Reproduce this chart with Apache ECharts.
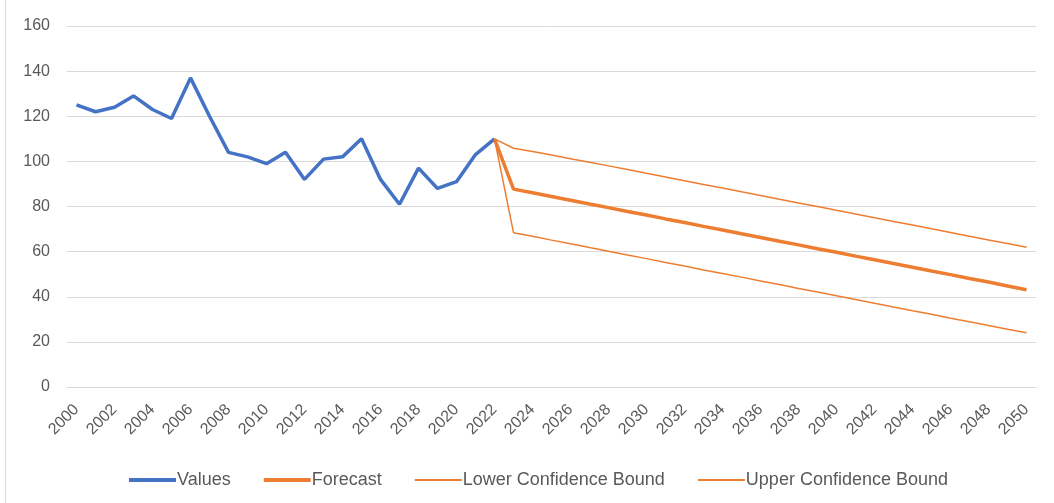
<!DOCTYPE html>
<html>
<head>
<meta charset="utf-8">
<script src="https://cdn.jsdelivr.net/npm/echarts@6/dist/echarts.min.js"></script>
<style>
  html, body { margin: 0; padding: 0; background: #fff; }
  #chart { width: 1054px; height: 503px; }
</style>
</head>
<body>
<div id="chart"></div>
<script>
// years 2000..2050
const years = []
for (let y = 2000; y <= 2050; y++) years.push(String(y))

// observed values 2000-2022
const values = [125, 122, 124, 129, 123, 119, 137, 120, 104, 102, 99, 104, 92, 101, 102, 110, 92, 81, 97, 88, 91, 103, 110]

// forecast / bounds start at 2022 (110)
const forecast = [110, 87.7, 86.1, 84.4, 82.8, 81.1, 79.5, 77.8, 76.2, 74.5, 72.9, 71.2, 69.6, 67.9, 66.3, 64.6, 63.0, 61.3, 59.7, 58.0, 56.4, 54.7, 53.1, 51.4, 49.8, 48.1, 46.5, 44.8, 43.1]
const lower = [110, 68.4, 66.8, 65.1, 63.5, 61.8, 60.2, 58.5, 56.9, 55.2, 53.6, 51.9, 50.3, 48.7, 47.0, 45.4, 43.7, 42.1, 40.4, 38.8, 37.1, 35.5, 33.8, 32.2, 30.5, 28.9, 27.3, 25.6, 24.0]
const upper = [110, 105.8, 104.4, 102.8, 101.2, 99.6, 98.0, 96.4, 94.7, 93.1, 91.4, 89.8, 88.2, 86.5, 84.9, 83.2, 81.6, 80.0, 78.3, 76.7, 75.0, 73.4, 71.8, 70.1, 68.5, 66.8, 65.2, 63.6, 61.9]

const pad = n => new Array(n).fill('-')
const offset = values.length - 1 // 2022 index

const font = "'Liberation Sans', 'Noto Sans', sans-serif"
const blue = '#4472C4'
const orange = '#ED7D31'
// legend icons: thick / thin bar
const thickIcon = 'path://M0,0 L47,0 L47,4 L0,4 Z'
const thinIcon = 'path://M0,0 L47,0 L47,2 L0,2 Z'

const myChart = echarts.init(document.getElementById('chart'))
const option = {
  animation: false,
  backgroundColor: '#fff',
  graphic: [{
    type: 'rect',
    shape: { x: 5.5, y: -2, width: 1060, height: 510 },
    style: { fill: 'none', stroke: '#d9d9d9', lineWidth: 1 },
  }],
  legend: {
    top: 466,
    left: 124,
    itemWidth: 47,
    itemHeight: 14,
    itemGap: 33,
    symbolKeepAspect: true,
    textStyle: { color: '#595959', fontSize: 18, fontFamily: font, padding: [0, 0, 0, -4] },
    data: [
      { name: 'Values', icon: thickIcon, itemStyle: { color: blue } },
      { name: 'Forecast', icon: thickIcon, itemStyle: { color: orange } },
      { name: 'Lower Confidence Bound', icon: thinIcon, itemStyle: { color: orange } },
      { name: 'Upper Confidence Bound', icon: thinIcon, itemStyle: { color: orange } },
    ],
  },
  grid: {
    left: 67,
    right: 18,
    top: 26,
    bottom: 116,
    containLabel: false,
  },
  xAxis: {
    type: 'category',
    data: years,
    boundaryGap: true,
    axisLine: { lineStyle: { color: '#d9d9d9' } },
    axisTick: { show: false },
    axisLabel: {
      interval: 1,
      rotate: 45,
      color: '#595959',
      fontSize: 16,
      fontFamily: font,
      margin: 20,
    },
  },
  yAxis: {
    type: 'value',
    min: 0,
    max: 160,
    interval: 20,
    axisLine: { show: false },
    axisTick: { show: false },
    axisLabel: { color: '#595959', fontSize: 16, fontFamily: font, margin: 17 },
    splitLine: { lineStyle: { color: '#d9d9d9', width: 1 } },
  },
  series: [
    {
      name: 'Values',
      type: 'line',
      data: values,
      symbol: 'none',
      color: blue,
      lineStyle: { width: 3.5, color: blue },
      z: 3,
    },
    {
      name: 'Forecast',
      type: 'line',
      data: pad(offset).concat(forecast),
      symbol: 'none',
      color: orange,
      lineStyle: { width: 3.5, color: orange },
      z: 2,
    },
    {
      name: 'Lower Confidence Bound',
      type: 'line',
      data: pad(offset).concat(lower),
      symbol: 'none',
      color: orange,
      lineStyle: { width: 1.5, color: orange },
    },
    {
      name: 'Upper Confidence Bound',
      type: 'line',
      data: pad(offset).concat(upper),
      symbol: 'none',
      color: orange,
      lineStyle: { width: 1.5, color: orange },
    },
  ],
}
myChart.setOption(option)
</script>
</body>
</html>
